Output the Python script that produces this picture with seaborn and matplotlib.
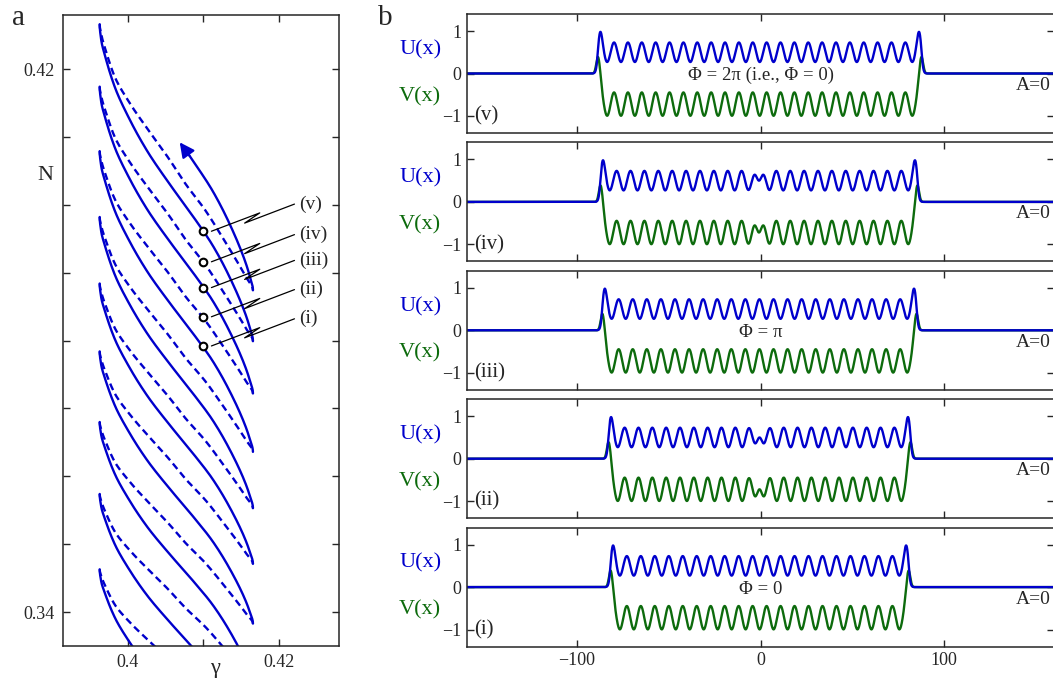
import numpy as np
import pandas as pd
import matplotlib
matplotlib.use("Agg")
import matplotlib.pyplot as plt
import seaborn as sns

# ---------------- panel a: snaking branch ----------------
gamma_left = 0.3963    # gamma of the left folds
gamma_right = 0.4166   # gamma of the right folds
# N at the left folds, top to bottom (first one lies above the frame)
N_left = [0.4358, 0.4266, 0.4174, 0.4079, 0.3982, 0.3884, 0.3784, 0.3680, 0.3574, 0.3463, 0.3348]
# N at the right folds, top to bottom (last ones lie below the frame)
N_right = [0.3874, 0.3799, 0.3722, 0.3636, 0.3553, 0.3471, 0.3383, 0.3294, 0.3200, 0.3105, 0.3012]
# shape of a branch between a left fold (t=0) and a right fold (t=1), as fraction of the gamma range
t_branch = [0, 0.05, 0.1, 0.2, 0.3, 0.4, 0.5, 0.6, 0.7, 0.8, 0.9, 0.95, 1]
f_solid = [0, 0.01, 0.035, 0.10, 0.195, 0.31, 0.45, 0.60, 0.74, 0.85, 0.94, 0.975, 1]
f_dashed = [0, 0.015, 0.04, 0.10, 0.20, 0.32, 0.445, 0.56, 0.69, 0.80, 0.905, 0.955, 1]
arrow_tip = (0.4069, 0.4092)

state_labels = ["(i)", "(ii)", "(iii)", "(iv)", "(v)"]
state_gamma = 0.41
state_N = [0.3792, 0.3835, 0.3878, 0.3916, 0.3961]
# leader line from a marked state to its label (offsets from the circle)
lead_dg = [0.0011, 0.0075, 0.0055, 0.0121]
lead_dN = [0.0, 0.0027, 0.0012, 0.0040]

# ---------------- panel b: profiles ----------------
front_left = [-80.5, -81.6, -85.0, -86.0, -87.4]    # (i) .. (v)
front_right = [79.5, 80.5, 83.8, 84.3, 86.5]
n_waves = [21, 21.5, 22, 22.5, 23]                   # wavelengths between the two fronts
phi_text = ["Φ = 0", "", "Φ = π", "", "Φ = 2π (i.e., Φ = 0)"]
u_mid, u_amp, u_edge = 0.5, 0.23, 0.28
v_mid, v_amp, v_bump = -0.72, 0.275, 0.40

blue = "#0000cc"
green = "#0d6b0d"

sns.set_style("ticks", {"xtick.direction": "in", "ytick.direction": "in"})
plt.rcParams["font.family"] = ["Liberation Serif", "DejaVu Serif"]
plt.rcParams["axes.linewidth"] = 1.1


def smooth(t, f, tt):
    # piecewise cubic Hermite through the read points, flat at both folds
    t = np.asarray(t, float)
    f = np.asarray(f, float)
    h = np.diff(t)
    d = np.diff(f) / h
    m = np.zeros_like(f)
    m[1:-1] = 2 / (1 / d[:-1] + 1 / d[1:])
    i = np.clip(np.searchsorted(t, tt, side="right") - 1, 0, len(h) - 1)
    s = (tt - t[i]) / h[i]
    return ((2 * s**3 - 3 * s**2 + 1) * f[i] + (s**3 - 2 * s**2 + s) * h[i] * m[i]
            + (-2 * s**3 + 3 * s**2) * f[i + 1] + (s**3 - s**2) * h[i] * m[i + 1])


def branch(n_top, n_bot, f, t0=0.0):
    tt = np.linspace(t0, 1, 160)
    g = gamma_left + smooth(t_branch, f, tt) * (gamma_right - gamma_left)
    return g, n_top - tt * (n_top - n_bot)


def profile(x, xl, xr, n):
    xc = 0.5 * (xl + xr)
    k = 2 * np.pi * n / (xr - xl)
    w = 0.5 * (1 - np.tanh((x - xc) / 3.0))
    osc = w * np.cos(k * (x - xl)) + (1 - w) * np.cos(k * (x - xr))
    env_u = 0.5 * (np.tanh((x - xl + 1.5) / 1.0) - np.tanh((x - xr - 1.5) / 1.0))
    env_v = 0.5 * (np.tanh((x - xl - 0.5) / 0.9) - np.tanh((x - xr + 0.5) / 0.9))
    edge = np.exp(-((x - xl) / 1.6) ** 2) + np.exp(-((x - xr) / 1.6) ** 2)
    bump = np.exp(-((x - xl + 1.2) / 1.3) ** 2) + np.exp(-((x - xr - 1.2) / 1.3) ** 2)
    u = env_u * (u_mid + u_amp * osc) + u_edge * edge
    v = env_v * (v_mid + v_amp * osc) + v_bump * bump
    return u, v


W, H = 1053, 680
fig = plt.figure(figsize=(W / 100, H / 100), dpi=100)

# ---------------- panel a ----------------
ax = fig.add_axes([62.7 / W, 1 - 646 / H, (339 - 62.7) / W, (646 - 14.7) / H])
for i in range(len(N_right)):
    if i == 0:
        g, N = branch(N_left[i], N_right[i], f_solid, t0=0.59)
        ax.annotate("", xy=arrow_tip, xytext=(g[0], N[0]),
                    arrowprops=dict(arrowstyle="-|>", color=blue, lw=1.6, mutation_scale=22,
                                    shrinkA=0, shrinkB=0))
    else:
        g, N = branch(N_left[i], N_right[i], f_solid)
    sns.lineplot(x=g, y=N, sort=False, estimator=None, color=blue, lw=1.7, ax=ax)
for i in range(len(N_right) - 1):
    g, N = branch(N_left[i + 1], N_right[i], f_dashed)
    sns.lineplot(x=g, y=N, sort=False, estimator=None, color=blue, lw=1.7,
                 linestyle=(0, (3, 1.8)), ax=ax)

for lab, n in zip(state_labels, state_N):
    lg = [state_gamma + d for d in lead_dg]
    ln = [n + d for d in lead_dN]
    ax.plot(lg, ln, color="black", lw=0.9, zorder=6)
    ax.text(lg[-1] + 0.0006, ln[-1], lab, ha="left", va="center", fontsize=14)
sns.scatterplot(x=[state_gamma] * len(state_N), y=state_N, s=30, facecolor="white",
                edgecolor="black", linewidth=1.5, zorder=7, ax=ax)

ax.set_xlim(0.3914, 0.4280)
ax.set_ylim(0.3350, 0.4280)
ax.set_xticks([0.40, 0.41, 0.42])
ax.set_xticklabels(["0.4", "", "0.42"])
yt = np.round(np.arange(0.34, 0.4201, 0.01), 2)
ax.set_yticks(yt)
ax.set_yticklabels(["0.34"] + [""] * 7 + ["0.42"])
ax.tick_params(top=True, right=True, length=5, width=1, labelsize=13, pad=6)
ax.set_xlabel("")
ax.set_ylabel("")
ax.text(-0.064, 0.746, "N", transform=ax.transAxes, ha="center", va="center", fontsize=16)
ax.text(0.551, -0.035, "γ", transform=ax.transAxes, ha="center", va="center", fontsize=16)

# ---------------- panel b ----------------
x = np.linspace(-160, 160, 4000)
for j in range(5):
    top = 14 + 128.4 * (4 - j)
    axb = fig.add_axes([467 / W, 1 - (top + 119) / H, 1 - 467 / W + 0.001, 119 / H])
    u, v = profile(x, front_left[j], front_right[j], n_waves[j])
    df = pd.DataFrame({"x": x, "U": u, "V": v})
    sns.lineplot(data=df, x="x", y="V", color=green, lw=1.7, ax=axb)
    sns.lineplot(data=df, x="x", y="U", color=blue, lw=1.7, ax=axb)
    axb.set_xlim(-160, 160)
    axb.set_ylim(-1.4, 1.4)
    axb.set_yticks([-1, 0, 1])
    axb.set_xticks([-100, 0, 100])
    axb.tick_params(top=True, right=True, length=5, width=1, labelsize=13, pad=4)
    if j > 0:
        axb.set_xticklabels([])
    axb.set_xlabel("")
    axb.set_ylabel("")
    axb.text(-174, 0.56, "U(x)", color=blue, ha="right", va="center", fontsize=16)
    axb.text(-174, -0.54, "V(x)", color=green, ha="right", va="center", fontsize=16)
    axb.text(-156, -1.0, state_labels[j], ha="left", va="center", fontsize=15)
    axb.text(158, -0.28, "A=0", ha="right", va="center", fontsize=14)
    if phi_text[j]:
        axb.text(0, -0.05, phi_text[j], ha="center", va="center", fontsize=13.5)

fig.text(18 / W, 1 - 18 / H, "a", ha="center", va="center", fontsize=21)
fig.text(385 / W, 1 - 18 / H, "b", ha="center", va="center", fontsize=21)

fig.savefig("out.png", dpi=100)
